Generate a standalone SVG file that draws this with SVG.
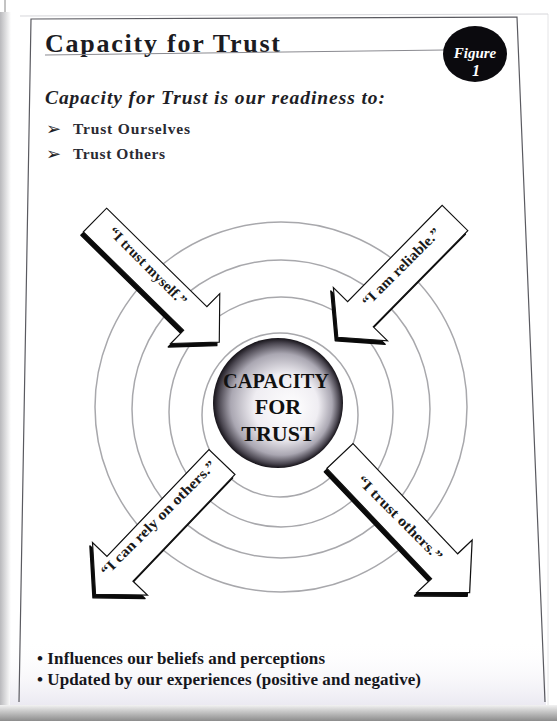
<svg xmlns="http://www.w3.org/2000/svg" xmlns:xlink="http://www.w3.org/1999/xlink" width="557" height="721" viewBox="0 0 557 721">
<style>
.serif{font-family:"Liberation Serif","DejaVu Serif",serif;}
.ring{fill:none;stroke:#a8a8ac;stroke-width:1.5;}
.frame{stroke:#5a5a60;stroke-width:1.2;fill:none;}
.albl{font-family:"Liberation Serif","DejaVu Serif",serif;font-size:14.5px;font-weight:bold;fill:#1a1a1a;text-anchor:middle;dominant-baseline:central;}
.core{font-family:"Liberation Serif","DejaVu Serif",serif;font-size:22px;font-weight:bold;fill:#111;text-anchor:middle;}
.shadow{fill:#0a0a0a;stroke:#0a0a0a;stroke-width:1.5;stroke-linejoin:round;}
.face{fill:#ffffff;stroke:#111;stroke-width:1.2;stroke-linejoin:miter;}
</style>
<defs>
<polygon id="arrowShape" points="0,-18 142,-18 142,-38 176,0 142,38 142,18 0,18"/>
<linearGradient id="leftShade" x1="0" y1="0" x2="1" y2="0">
<stop offset="0" stop-color="#b9b9bc"/><stop offset="1" stop-color="#ffffff"/>
</linearGradient>
<linearGradient id="bottomShade" x1="0" y1="0" x2="0" y2="1">
<stop offset="0" stop-color="#f2f2f2"/><stop offset="0.4" stop-color="#c8c8c8"/><stop offset="1" stop-color="#8c8c8c"/>
</linearGradient>
<linearGradient id="pageTint" x1="0" y1="0" x2="0" y2="1">
<stop offset="0" stop-color="#ffffff" stop-opacity="0"/><stop offset="1" stop-color="#e6e4ee" stop-opacity="0.8"/>
</linearGradient>
<radialGradient id="sphere" cx="0.5" cy="0.5" r="0.5" fx="0.62" fy="0.55">
<stop offset="0" stop-color="#ffffff"/>
<stop offset="0.5" stop-color="#efedf2"/>
<stop offset="0.78" stop-color="#aaa7b2"/>
<stop offset="0.93" stop-color="#4a4650"/>
<stop offset="1" stop-color="#151218"/>
</radialGradient>
</defs>

<g id="page">
<rect x="0" y="0" width="557" height="721" fill="#ffffff"/>
<rect x="0" y="12" width="11" height="695" fill="url(#leftShade)"/>
<rect x="0" y="705" width="557" height="16" fill="url(#bottomShade)"/>
<rect x="10" y="640" width="536" height="65" fill="url(#pageTint)"/>
<line x1="5" y1="0" x2="5" y2="12" stroke="#888" stroke-width="1"/>
<line x1="548" y1="14" x2="548" y2="705" stroke="#e4e4e6" stroke-width="1"/>
<line x1="20" y1="16" x2="548" y2="14" stroke="#d6d6da" stroke-width="1"/>
<polyline class="frame" points="19,702 31,19 517,17 545,702"/>
</g>

<g id="header">
<text class="serif" x="45" y="52" font-size="26" font-weight="bold" fill="#1b1b22" textLength="235" lengthAdjust="spacing">Capacity for Trust</text>
<line x1="45" y1="55" x2="445" y2="50" stroke="#8a8a90" stroke-width="1"/>
<g id="figure-badge">
<ellipse cx="475" cy="54" rx="32" ry="28" fill="#0b0a0e"/>
<text class="serif" x="475" y="58" font-size="15" font-weight="bold" font-style="italic" fill="#ffffff" text-anchor="middle">Figure</text>
<text class="serif" x="476" y="76" font-size="16" font-weight="bold" font-style="italic" fill="#ffffff" text-anchor="middle">1</text>
</g>
<text class="serif" x="45" y="104" font-size="19.5" font-weight="bold" font-style="italic" fill="#1e1e26" textLength="340" lengthAdjust="spacing">Capacity for Trust is our readiness to:</text>
<text x="46" y="135" font-family="DejaVu Sans, sans-serif" font-size="18" fill="#1e1e26">➢</text>
<text class="serif" x="73" y="134" font-size="15.5" font-weight="bold" fill="#2a2a32" textLength="117" lengthAdjust="spacing">Trust Ourselves</text>
<text x="46" y="160" font-family="DejaVu Sans, sans-serif" font-size="18" fill="#1e1e26">➢</text>
<text class="serif" x="73" y="159" font-size="15.5" font-weight="bold" fill="#2a2a32" textLength="92" lengthAdjust="spacing">Trust Others</text>
</g>

<g id="rings">
<ellipse class="ring" cx="281" cy="407" rx="186" ry="185"/>
<ellipse class="ring" cx="281" cy="409" rx="149" ry="149"/>
<ellipse class="ring" cx="281" cy="412" rx="112" ry="115"/>
<ellipse class="ring" cx="280" cy="415" rx="78" ry="82"/>
</g>

<g id="center">
<circle cx="278" cy="403" r="65" fill="url(#sphere)"/>
<text class="core" x="276" y="388" textLength="106" lengthAdjust="spacingAndGlyphs">CAPACITY</text>
<text class="core" x="278" y="414">FOR</text>
<text class="core" x="278" y="441">TRUST</text>
</g>

<g id="connectors">
<g id="arrow-trust-myself">
<g transform="translate(-2.5,3.5)"><g transform="translate(95,220) rotate(44.5) scale(0.99,0.92)"><use xlink:href="#arrowShape" class="shadow"/></g></g>
<g transform="translate(95,220) rotate(44.5) scale(0.99,0.92)"><use xlink:href="#arrowShape" class="face"/></g>
<text class="albl" transform="translate(148,266) rotate(45)" textLength="104" lengthAdjust="spacingAndGlyphs">“I trust myself.”</text>
</g>
<g id="arrow-reliable">
<g transform="translate(-2.5,3.5)"><g transform="translate(455,218) rotate(134.5) scale(0.95,1)"><use xlink:href="#arrowShape" class="shadow"/></g></g>
<g transform="translate(455,218) rotate(134.5) scale(0.95,1)"><use xlink:href="#arrowShape" class="face"/></g>
<text class="albl" transform="translate(401,267) rotate(-45)" textLength="104" lengthAdjust="spacingAndGlyphs">“I am reliable.”</text>
</g>
<g id="arrow-rely-on-others">
<g transform="translate(-2.5,3.5)"><g transform="translate(222,462) rotate(133.7) scale(1.04,1)"><use xlink:href="#arrowShape" class="shadow"/></g></g>
<g transform="translate(222,462) rotate(133.7) scale(1.04,1)"><use xlink:href="#arrowShape" class="face"/></g>
<text class="albl" transform="translate(158,518) rotate(-45)" textLength="156" lengthAdjust="spacingAndGlyphs">“I can rely on others.”</text>
</g>
<g id="arrow-trust-others">
<g transform="translate(-2.5,3.5)"><g transform="translate(340,456) rotate(46.5) scale(1.07,1)"><use xlink:href="#arrowShape" class="shadow"/></g></g>
<g transform="translate(340,456) rotate(46.5) scale(1.07,1)"><use xlink:href="#arrowShape" class="face"/></g>
<text class="albl" transform="translate(400,518) rotate(45)" textLength="114" lengthAdjust="spacingAndGlyphs">“I trust others.”</text>
</g>
</g>

<g id="footer">
<text class="serif" x="37" y="664" font-size="17" font-weight="bold" fill="#16161c" textLength="288" lengthAdjust="spacing">• Influences our beliefs and perceptions</text>
<text class="serif" x="37" y="685" font-size="17" font-weight="bold" fill="#16161c" textLength="384" lengthAdjust="spacing">• Updated by our experiences (positive and negative)</text>
</g>
</svg>
